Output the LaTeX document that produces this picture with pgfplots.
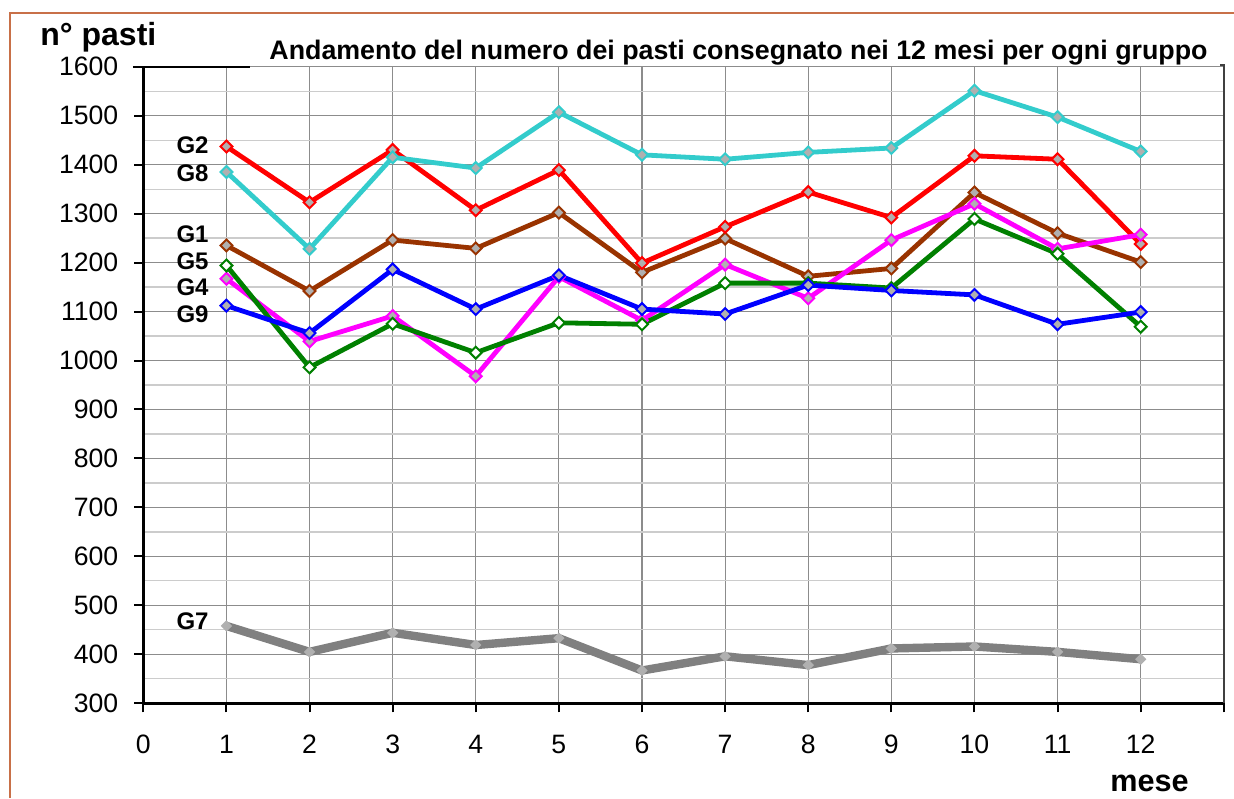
\documentclass[border=0pt]{standalone}
\usepackage{fontspec}
\setmainfont{Liberation Sans}
\usepackage{pgfplots}
\pgfplotsset{compat=1.18}
\definecolor{cG1}{RGB}{153,51,0}
\definecolor{cG2}{RGB}{255,0,0}
\definecolor{cG4}{RGB}{255,0,255}
\definecolor{cG5}{RGB}{0,128,0}
\definecolor{cG7}{RGB}{128,128,128}
\definecolor{cG8}{RGB}{51,204,204}
\definecolor{cG9}{RGB}{0,0,255}
\definecolor{mkgray}{RGB}{176,176,176}
\definecolor{framec}{RGB}{200,112,72}
\begin{document}
\begin{tikzpicture}[x=1pt,y=1pt]
\path[use as bounding box] (0,0) rectangle (617,399);
\draw[color=framec, line width=0.8pt] (5,0) -- (5,392.5) -- (617,392.5);
\node[anchor=base west, inner sep=0, font=\bfseries\fontsize{16}{18}\selectfont] at (20,376) {n° pasti};
\node[anchor=base west, inner sep=0, font=\bfseries\fontsize{13.4}{15}\selectfont] at (134.5,369) {Andamento del numero dei pasti consegnato nei 12 mesi per ogni gruppo};
\node[anchor=base west, inner sep=0, font=\bfseries\fontsize{15.3}{17}\selectfont] at (555,3.2) {mese};
\begin{axis}[
  at={(71.65pt,47.35pt)}, anchor=south west,
  scale only axis, width=540.25pt, height=318.3pt,
  xmin=0, xmax=13, ymin=300, ymax=1600,
  axis lines*=left,
  axis line style={-, line width=1.4pt, black},
  xtick={0,1,2,3,4,5,6,7,8,9,10,11,12,13},
  xticklabels={0,1,2,3,4,5,6,7,8,9,10,11,12,{}},
  ytick={300,400,500,600,700,800,900,1000,1100,1200,1300,1400,1500,1600},
  minor ytick={350,450,550,650,750,850,950,1050,1150,1250,1350,1450,1550},
  tick align=outside,
  major tick length=4.5pt, minor tick length=0pt,
  tick style={line width=1pt, black},
  xmajorgrids, ymajorgrids, yminorgrids,
  major grid style={color=black!45, line width=0.6pt},
  minor grid style={color=black!20, line width=0.6pt},
  tick label style={font=\fontsize{13.3}{15}\selectfont},
  xticklabel style={yshift=-8pt},
  yticklabel style={xshift=-4.5pt},
  /pgf/number format/assume math mode=true,
  /pgf/number format/1000 sep={},
  clip=false,
  every axis plot/.append style={line width=2.4pt},
]
\addplot[color=cG1, mark=square*, mark size=2.1pt, mark options={rotate=45, fill=mkgray, draw=cG1, line width=1pt}] coordinates {
(1,1235) (2,1142) (3,1246) (4,1229) (5,1302) (6,1180) (7,1249) (8,1172) (9,1188) (10,1343) (11,1260) (12,1201)};
\addplot[color=cG2, mark=square*, mark size=2.1pt, mark options={rotate=45, fill=mkgray, draw=cG2, line width=1pt}] coordinates {
(1,1437) (2,1323) (3,1430) (4,1307) (5,1389) (6,1199) (7,1273) (8,1344) (9,1292) (10,1418) (11,1411) (12,1238)};
\addplot[color=cG4, mark=square*, mark size=2.1pt, mark options={rotate=45, fill=mkgray, draw=cG4, line width=1pt}] coordinates {
(1,1167) (2,1039) (3,1091) (4,968) (5,1171) (6,1082) (7,1196) (8,1127) (9,1246) (10,1320) (11,1228) (12,1257)};
\addplot[color=cG5, mark=square*, mark size=2.1pt, mark options={rotate=45, fill=white, draw=cG5, line width=1pt}] coordinates {
(1,1194) (2,986) (3,1075) (4,1016) (5,1077) (6,1074) (7,1158) (8,1158) (9,1148) (10,1289) (11,1218) (12,1069)};
\addplot[color=cG7, line width=4.2pt, mark=square*, mark size=1.7pt, mark options={rotate=45, fill=mkgray, draw=mkgray, line width=0.6pt}] coordinates {
(1,458) (2,405) (3,444) (4,419) (5,433) (6,367) (7,396) (8,378) (9,412) (10,416) (11,405) (12,390)};
\addplot[color=cG8, mark=square*, mark size=2.1pt, mark options={rotate=45, fill=mkgray, draw=cG8, line width=1pt}] coordinates {
(1,1385) (2,1228) (3,1415) (4,1393) (5,1507) (6,1420) (7,1411) (8,1425) (9,1434) (10,1551) (11,1497) (12,1427)};
\addplot[color=cG9, mark=square*, mark size=2.1pt, mark options={rotate=45, fill=mkgray, draw=cG9, line width=1pt}] coordinates {
(1,1112) (2,1056) (3,1186) (4,1105) (5,1174) (6,1105) (7,1095) (8,1154) (9,1143) (10,1134) (11,1074) (12,1099)};
\draw[line width=1pt, black!75] (axis cs:12.96,1603) -- (axis cs:13,1603) -- (axis cs:13,300);
\draw[line width=1pt, black] (axis cs:-0.124,1600) -- (axis cs:1.284,1600);
\begin{scope}[every node/.style={anchor=east, inner sep=0pt, font=\bfseries\fontsize{12}{14}\selectfont}]
\node at (axis cs:0.79,1440) {G2};
\node at (axis cs:0.79,1382) {G8};
\node at (axis cs:0.79,1258) {G1};
\node at (axis cs:0.79,1203) {G5};
\node at (axis cs:0.79,1149) {G4};
\node at (axis cs:0.79,1094) {G9};
\node at (axis cs:0.79,468) {G7};
\end{scope}
\end{axis}
\end{tikzpicture}
\end{document}
